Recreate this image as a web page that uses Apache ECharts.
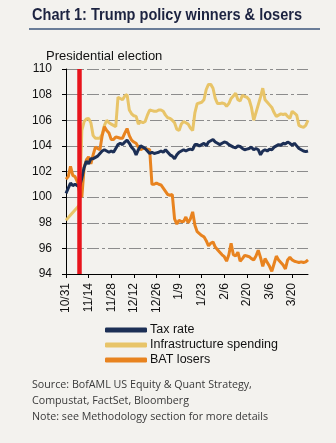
<!DOCTYPE html>
<html>
<head>
<meta charset="utf-8">
<script src="https://cdn.jsdelivr.net/npm/echarts@6/dist/echarts.min.js"></script>
<style>
  html, body { margin: 0; padding: 0; background: #f3f2ee; }
  #chart { width: 336px; height: 443px; }
</style>
</head>
<body>
<div id="chart"></div>
<script>
// Trading days (Mon-Fri) starting 31 Oct 2016
const startDate = new Date(2016, 9, 31);
const dayCount = 108;
const categories = [];
for (let d = new Date(startDate); categories.length < dayCount; d.setDate(d.getDate() + 1)) {
  const wd = d.getDay();
  if (wd !== 0 && wd !== 6) categories.push((d.getMonth() + 1) + '/' + d.getDate());
}

const tickLabels = ['10/31', '11/14', '11/28', '12/12', '12/26', '1/9', '1/23', '2/6', '2/20', '3/6', '3/20'];
const electionDay = '11/8';

const taxRate = [
  100.3, 100.7, 101.1, 100.9, 101.0, 100.9, 100.8, 101.5, 102.3, 102.8,
  102.6, 103.0, 103.0, 103.1, 103.2, 103.4, 103.6, 103.7, 103.6, 103.5,
  103.6, 103.5, 103.8, 104.1, 104.2, 104.1, 104.3, 104.45, 104.2, 103.9,
  103.7, 103.3, 103.7, 104.0, 103.9, 103.8, 103.6, 103.4, 103.5, 103.4,
  103.45, 103.5, 103.6, 103.5, 103.7, 103.5, 103.3, 103.2, 103.0, 103.3,
  103.5, 103.6, 103.7, 103.6, 103.7, 103.75, 103.7, 104.1, 104.1, 104.0,
  104.1, 104.2, 104.0, 104.3, 104.4, 104.5, 104.3, 104.2, 104.1, 104.2,
  104.3, 104.25, 104.1, 104.0, 103.9, 103.85, 104.0, 103.95, 103.8, 103.7,
  103.75, 103.8, 103.9, 103.7, 103.8, 103.7, 103.3, 103.6, 103.7, 103.6,
  103.75, 103.7, 103.9, 104.0, 104.1, 104.05, 104.2, 104.15, 104.3, 104.2,
  104.05, 104.2, 104.0, 103.8, 103.7, 103.6, 103.55, 103.6
];

const infrastructure = [
  98.2, 98.4, 98.6, 98.8, 99.0, 99.2, 99.4, 105.2, 105.9, 106.1,
  106.15, 105.8, 104.8, 104.6, 104.6, 104.6, 104.9, 105.6, 106.0, 105.8,
  105.7, 105.6, 105.5, 107.8, 107.7, 107.6, 107.9, 108.0, 106.8, 106.5,
  106.35, 106.3, 105.7, 105.9, 105.8, 105.9, 106.4, 106.8, 106.75, 106.7,
  106.7, 106.8, 106.8, 106.7, 106.4, 106.2, 106.15, 106.0, 105.8, 105.3,
  105.2, 105.7, 105.9, 105.8, 105.7, 105.4, 105.2, 106.6, 107.3, 107.35,
  107.4, 107.6, 108.4, 108.8, 108.8, 108.5, 107.7, 107.3, 107.3, 107.35,
  107.3, 107.1, 107.3, 107.7, 107.9, 108.1, 107.6, 107.5, 107.95, 107.85,
  107.8, 107.6, 107.0, 106.0, 106.6, 107.2, 107.8, 108.5, 107.6, 107.4,
  107.2, 107.0, 106.6, 106.3, 106.4, 106.5, 106.45, 106.5, 106.3, 106.15,
  106.7, 106.55, 106.4, 105.6, 105.5, 105.45, 105.6, 106.0
];

const batLosers = [
  101.4, 101.6, 102.4, 101.7, 101.6, 101.2, 100.4, 100.0, 102.3, 102.9,
  103.15, 102.6, 103.3, 103.9, 103.8, 103.7, 104.8, 105.5, 105.2, 105.0,
  104.5, 104.5, 104.7, 104.65, 104.6, 104.6, 105.0, 105.35, 104.8, 104.45,
  104.3, 104.2, 103.9, 103.7, 103.8, 103.8, 103.75, 103.7, 101.0, 101.0,
  101.1, 101.0, 100.95, 100.7, 100.45, 100.2, 100.15, 100.2, 98.3, 97.9,
  98.2, 98.1, 98.1, 98.45, 98.0, 98.3, 98.85, 97.8, 97.3, 97.15,
  97.0, 96.9, 96.6, 96.2, 96.4, 96.5, 96.1, 95.9, 95.7, 95.5,
  95.35, 95.0, 95.5, 96.4, 95.5, 95.4, 95.7, 95.0, 95.2, 95.45,
  95.4, 95.35, 95.2, 95.1, 95.4, 95.85, 95.3, 94.6, 95.2, 94.9,
  94.6, 94.2, 94.8, 95.4, 95.1, 94.9, 94.7, 94.4, 95.1, 95.3,
  95.1, 95.0, 94.95, 94.9, 94.95, 94.9, 94.95, 95.1
];

const seriesNames = ['Tax rate', 'Infrastructure spending', 'BAT losers'];
const seriesColors = ['#1c2f55', '#e8c468', '#e8831f'];

const showTick = (idx, val) => tickLabels.indexOf(val) !== -1;
const labelFont = 'Liberation Sans, Arial, sans-serif';

// Title set in a bold face squeezed horizontally to a condensed width
const titleText = 'Chart 1: Trump policy winners & losers';
const titleFont = 'bold 16px "Liberation Sans", Arial, sans-serif';
const measureCtx = document.createElement('canvas').getContext('2d');
measureCtx.font = titleFont;
const titleScale = 270 / measureCtx.measureText(titleText).width;

const chart = echarts.init(document.getElementById('chart'), null, { renderer: 'canvas' });

chart.setOption({
  backgroundColor: '#f3f2ee',
  animation: false,
  grid: { left: 66, right: 28, top: 69, bottom: 169 },
  xAxis: {
    type: 'category',
    data: categories,
    boundaryGap: false,
    axisLine: { lineStyle: { color: '#000', width: 1 } },
    axisTick: { show: true, interval: showTick, length: 4, lineStyle: { color: '#000' } },
    axisLabel: {
      interval: showTick,
      rotate: 90,
      margin: 9,
      color: '#111',
      fontSize: 12,
      fontFamily: labelFont
    },
    splitLine: { show: false }
  },
  yAxis: {
    type: 'value',
    min: 94,
    max: 110,
    interval: 2,
    axisLine: { show: true, lineStyle: { color: '#000', width: 1 } },
    axisTick: { show: true, length: 4, lineStyle: { color: '#000' } },
    axisLabel: { color: '#111', fontSize: 12, fontFamily: labelFont, margin: 14 },
    splitLine: { show: true, lineStyle: { color: '#8c8c8c', width: 1, type: [12, 3, 3, 3] } }
  },
  legend: {
    orient: 'vertical',
    left: 100,
    top: 318,
    icon: 'roundRect',
    itemWidth: 42,
    itemHeight: 5,
    itemGap: 1,
    textStyle: { color: '#111', fontSize: 12.5, fontFamily: labelFont, padding: [0, 0, 0, -2], lineHeight: 14 },
    data: seriesNames
  },
  series: [
    {
      name: seriesNames[0], type: 'line', data: taxRate, symbol: 'none', z: 4,
      lineStyle: { color: seriesColors[0], width: 3 }, itemStyle: { color: seriesColors[0] },
      markLine: {
        silent: true, symbol: 'none', label: { show: false },
        lineStyle: { color: '#e8141c', width: 4.5, type: 'solid' },
        data: [{ xAxis: electionDay }]
      }
    },
    {
      name: seriesNames[1], type: 'line', data: infrastructure, symbol: 'none', z: 2,
      lineStyle: { color: seriesColors[1], width: 3 }, itemStyle: { color: seriesColors[1] }
    },
    {
      name: seriesNames[2], type: 'line', data: batLosers, symbol: 'none', z: 3,
      lineStyle: { color: seriesColors[2], width: 3 }, itemStyle: { color: seriesColors[2] }
    }
  ],
  graphic: [
    {
      type: 'text', x: 32, y: 8, scaleX: titleScale,
      style: { text: titleText, fill: '#1c2340', font: titleFont }
    },
    {
      type: 'rect', shape: { x: 29, y: 28, width: 291, height: 2 },
      style: { fill: '#6a7d98' }
    },
    {
      type: 'text', left: 46, top: 50,
      style: { text: 'Presidential election', fill: '#111', font: '13px "Liberation Sans", Arial, sans-serif' }
    },
    {
      type: 'text', left: 32, top: 377,
      style: {
        text: 'Source: BofAML US Equity & Quant Strategy,\nCompustat, FactSet, Bloomberg\nNote: see Methodology section for more details',
        fill: '#3a3a3a',
        font: '10.7px "Open Sans", sans-serif',
        lineHeight: 16
      }
    }
  ]
});
</script>
</body>
</html>
